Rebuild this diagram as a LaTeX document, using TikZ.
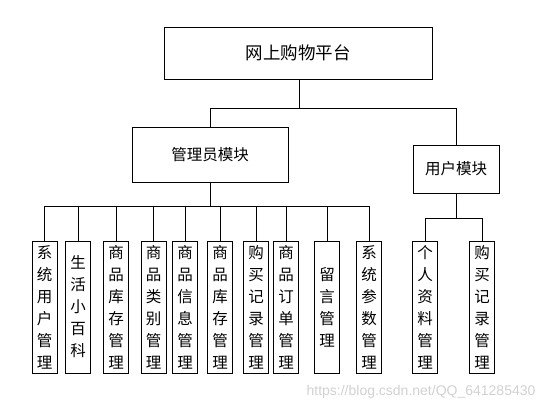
\documentclass[tikz,border=0pt]{standalone}
\usepackage{fontspec}
\newfontfamily\cjk{Noto Sans CJK SC}
\setmainfont{Liberation Sans}
\begin{document}
\begin{tikzpicture}[x=1pt,y=-1pt,line width=1pt,
    box/.style={draw,inner sep=0pt,font=\cjk\fontsize{15.5}{20}\selectfont},
    leaf/.style={draw,inner sep=0pt,minimum width=25pt,minimum height=132pt,
        align=center,font=\cjk\fontsize{15.5}{22}\selectfont}]
        \useasboundingbox (0,0) rectangle (560,410);

        \node[box,minimum width=268pt,minimum height=52pt,font=\cjk\fontsize{17.5}{20}\selectfont] (top) at (298,53) {网上购物平台};
        \node[box,minimum width=156pt,minimum height=55pt] (admin) at (210,154.5) {管理员模块};
        \node[box,minimum width=86pt,minimum height=48pt] (user) at (456,169) {用户模块};

        \coordinate (tb) at (299,108);
        \coordinate (ab) at (210,206);
        \coordinate (ub) at (456,218);

        \node[leaf] (a1) at (44.5,307) {系\\统\\用\\户\\管\\理};
        \node[leaf] (a2) at (78,307) {生\\活\\小\\百\\科};
        \node[leaf] (a3) at (116,307) {商\\品\\库\\存\\管\\理};
        \node[leaf] (a4) at (153.5,307) {商\\品\\类\\别\\管\\理};
        \node[leaf] (a5) at (185,307) {商\\品\\信\\息\\管\\理};
        \node[leaf] (a6) at (220,307) {商\\品\\库\\存\\管\\理};
        \node[leaf] (a7) at (256,307) {购\\买\\记\\录\\管\\理};
        \node[leaf] (a8) at (286,307) {商\\品\\订\\单\\管\\理};
        \node[leaf] (a9) at (327,307) {留\\言\\管\\理};
        \node[leaf] (a10) at (369,307) {系\\统\\参\\数\\管\\理};

        \node[leaf] (u1) at (425,307) {个\\人\\资\\料\\管\\理};
        \node[leaf] (u2) at (482,307) {购\\买\\记\\录\\管\\理};

        \draw (top.south -| tb) -- (tb);
        \draw (admin.north) |- (tb);
        \draw (user.north) |- (tb);

        \draw (admin.south) -- (ab);
        \foreach \n in {a1,a2,a3,a4,a5,a6,a7,a8,a9,a10}
            \draw (\n.north) |- (ab);

        \draw (user.south) -- (ub);
        \draw (u1.north) |- (ub);
        \draw (u2.north) |- (ub);

        \node[text=black!18,font=\fontsize{14}{16}\selectfont] (wm) at (421,392) {https://blog.csdn.net/QQ\_641285430};
    \end{tikzpicture}
\end{document}
